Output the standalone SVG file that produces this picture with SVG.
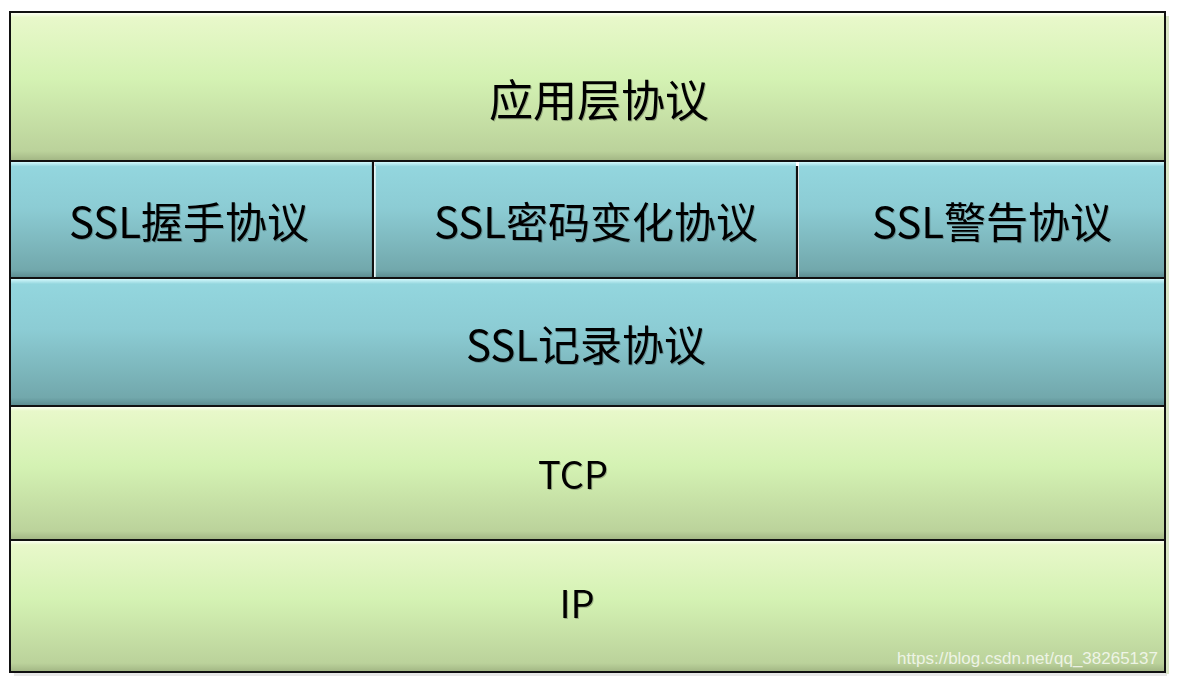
<svg xmlns="http://www.w3.org/2000/svg" width="1179" height="686" viewBox="0 0 1179 686">
  <defs>
    <linearGradient id="gGreen" x1="0" y1="0" x2="0" y2="1">
      <stop offset="0" stop-color="#fbfff0"/>
      <stop offset="0.03" stop-color="#e8f8ca"/>
      <stop offset="0.45" stop-color="#d4f2b3"/>
      <stop offset="0.94" stop-color="#bbd29b"/>
      <stop offset="1" stop-color="#a4b886"/>
    </linearGradient>
    <linearGradient id="gBlue" x1="0" y1="0" x2="0" y2="1">
      <stop offset="0" stop-color="#d2f8fc"/>
      <stop offset="0.04" stop-color="#93d6de"/>
      <stop offset="0.4" stop-color="#8cccd4"/>
      <stop offset="0.94" stop-color="#72a8ac"/>
      <stop offset="1" stop-color="#5d8e92"/>
    </linearGradient>
    <filter id="soft" x="-5%" y="-20%" width="110%" height="140%">
      <feGaussianBlur in="SourceAlpha" stdDeviation="0.6"/>
      <feOffset dx="0.7" dy="0.7" result="s"/>
      <feComponentTransfer><feFuncA type="linear" slope="0.25"/></feComponentTransfer>
      <feMerge><feMergeNode/><feMergeNode in="SourceGraphic"/></feMerge>
    </filter>
  </defs>
  <style>
    .green { fill: url(#gGreen); }
    .blue { fill: url(#gBlue); }
    .label { font-family: "Noto Sans CJK SC", "Liberation Sans", sans-serif; font-size: 42px; fill: #000; text-anchor: middle; dominant-baseline: central; filter: url(#soft); }
    .big { font-size: 44px; }
    .small { font-size: 38px; }
    .rule { stroke: #111; stroke-width: 2.2; }
    .mark { font-family: "Liberation Sans", Arial, sans-serif; font-size: 17px; fill: #ffffff; fill-opacity: 0.75; text-anchor: end; }
  </style>

  <rect width="1179" height="686" fill="#ffffff"/>
  <!-- soft shadow on right and bottom of the stack -->
  <rect x="1165" y="16" width="4" height="658" fill="#c9dcae" opacity="0.7"/>
  <rect x="14" y="672" width="1153" height="4" fill="#d8d8d8" opacity="0.6"/>

  <g id="app-layer">
    <rect class="green" x="11" y="13" width="1154" height="147"/>
    <text class="label big" x="599" y="98">应用层协议</text>
  </g>

  <g id="ssl-handshake">
    <rect class="blue" x="11" y="162" width="361" height="115"/>
    <text class="label" x="189" y="219">SSL握手协议</text>
  </g>

  <g id="ssl-cipher-change">
    <rect class="blue" x="375" y="162" width="421" height="115"/>
    <text class="label" x="596" y="219">SSL密码变化协议</text>
  </g>

  <g id="ssl-alert">
    <rect class="blue" x="799" y="162" width="366" height="115"/>
    <text class="label" x="992" y="219">SSL警告协议</text>
  </g>

  <g id="ssl-record">
    <rect class="blue" x="11" y="279" width="1154" height="126"/>
    <text class="label" x="586" y="342">SSL记录协议</text>
  </g>

  <g id="tcp">
    <rect class="green" x="11" y="407" width="1154" height="132"/>
    <text class="label small" x="573" y="472">TCP</text>
  </g>

  <g id="ip">
    <rect class="green" x="11" y="541" width="1154" height="130"/>
    <text class="label small" x="577" y="601">IP</text>
  </g>

  <!-- separating rules and outer frame -->
  <g id="connectors">
    <line class="rule" x1="10" y1="161" x2="1165" y2="161"/>
    <line class="rule" x1="10" y1="278" x2="1165" y2="278"/>
    <line class="rule" x1="10" y1="406" x2="1165" y2="406"/>
    <line class="rule" x1="10" y1="540" x2="1165" y2="540"/>
    <line class="rule" x1="373" y1="161" x2="373" y2="278"/>
    <line x1="375" y1="166" x2="375" y2="277" stroke="#e8f8fa" stroke-width="1.5"/>
    <line class="rule" x1="797" y1="166" x2="797" y2="278"/>
    <rect x="10" y="12" width="1155" height="660" fill="none" stroke="#111" stroke-width="2"/>
  </g>

  <text class="mark" x="1158" y="664">https://blog.csdn.net/qq_38265137</text>
</svg>
